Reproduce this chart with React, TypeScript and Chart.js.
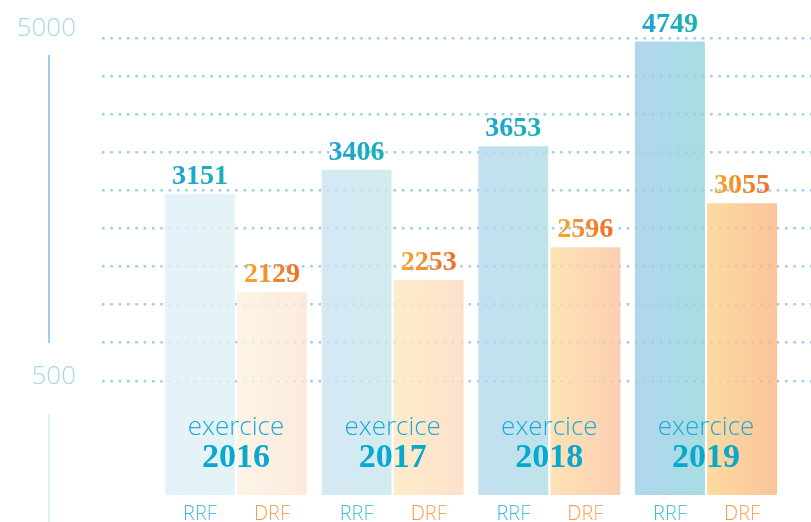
import React, { useEffect, useRef } from "react";
import { Chart, registerables } from "chart.js";

Chart.register(...registerables);

const categories = ["2016", "2017", "2018", "2019"];
const seriesLabels = ["RRF", "DRF"];
const rrfValues = [3151, 3406, 3653, 4749];
const drfValues = [2129, 2253, 2596, 3055];
const shownTickLabels = [500, 5000];

const rrfFills = [
  ["rgba(225,239,249,0.82)", "rgba(222,240,243,0.82)"],
  ["rgba(204,227,243,0.82)", "rgba(200,231,234,0.82)"],
  ["rgba(182,216,239,0.82)", "rgba(177,221,227,0.82)"],
  ["rgba(160,205,235,0.82)", "rgba(148,213,220,0.82)"],
];
const drfFills = [
  ["rgba(252,242,224,0.82)", "rgba(252,229,216,0.82)"],
  ["rgba(254,232,190,0.82)", "rgba(252,218,193,0.82)"],
  ["rgba(254,221,165,0.82)", "rgba(251,196,161,0.82)"],
  ["rgba(252,211,139,0.82)", "rgba(250,182,132,0.82)"],
];

const CAT_PCT = 0.92;
const BAR_PCT = 0.97;

function barFill(fills: string[][], side: number) {
  return (c: any) => {
    const chart = c.chart;
    const xs = chart.scales && chart.scales.x;
    const pair = fills[c.dataIndex] || fills[0];
    if (!xs || !chart.chartArea || !isFinite(xs.getPixelForValue(1))) return pair[0];
    const center = xs.getPixelForValue(c.dataIndex);
    const step = xs.getPixelForValue(1) - xs.getPixelForValue(0);
    const chunk = (step * CAT_PCT) / 2;
    const left = side === 0 ? center - chunk : center;
    const right = side === 0 ? center : center + chunk;
    const g = chart.ctx.createLinearGradient(left, 0, right, 0);
    g.addColorStop(0, pair[0]);
    g.addColorStop(1, pair[1]);
    return g;
  };
}

const valueGradients = [
  ["#1fa3d6", "#17b2b2"],
  ["#f9a62c", "#ee6e2c"],
];
const seriesLabelColors = [
  ["#3fb4e0", "#55c8db"],
  ["#f7983f", "#f7ab60"],
];

const decorPlugin = {
  id: "decor",
  beforeDatasetsDraw(chart: any) {
    const ctx = chart.ctx;
    const s = chart.scales.yg;
    const y5000 = s.getPixelForValue(5000);
    const y500 = s.getPixelForValue(500);
    const x = s.left + 49;
    ctx.save();
    ctx.strokeStyle = "#9dcfec";
    ctx.lineWidth = 2;
    ctx.beginPath();
    ctx.moveTo(x, y5000 + 22);
    ctx.lineTo(x, y500 - 38);
    ctx.stroke();
    ctx.strokeStyle = "#d3e8f6";
    ctx.lineWidth = 1.5;
    ctx.beginPath();
    ctx.moveTo(x, y500 + 33);
    ctx.lineTo(x, chart.height);
    ctx.stroke();
    ctx.font = '300 26px "Open Sans"';
    ctx.fillStyle = "#a8d5ef";
    ctx.textAlign = "right";
    ctx.textBaseline = "middle";
    shownTickLabels.forEach((v) => {
      const yy = s.getPixelForValue(v);
      ctx.fillText(String(v), s.right - 26, yy - 4);
    });
    ctx.restore();
  },
  afterDatasetsDraw(chart: any) {
    const ctx = chart.ctx;
    const area = chart.chartArea;
    ctx.save();
    ctx.textAlign = "center";
    ctx.textBaseline = "alphabetic";
    chart.data.datasets.forEach((ds: any, di: number) => {
      const meta = chart.getDatasetMeta(di);
      meta.data.forEach((el: any, i: number) => {
        const v = ds.data[i].y;
        ctx.font = 'bold 28px "Liberation Serif"';
        const txt = String(v);
        const w = ctx.measureText(txt).width;
        const g = ctx.createLinearGradient(el.x - w / 2, 0, el.x + w / 2, 0);
        g.addColorStop(0, valueGradients[di][0]);
        g.addColorStop(1, valueGradients[di][1]);
        ctx.fillStyle = g;
        ctx.fillText(txt, el.x, el.y - 10);
        ctx.font = '300 20px "Open Sans"';
        const lw = ctx.measureText(seriesLabels[di]).width;
        const lg = ctx.createLinearGradient(el.x - lw / 2, 0, el.x + lw / 2, 0);
        lg.addColorStop(0, seriesLabelColors[di][0]);
        lg.addColorStop(1, seriesLabelColors[di][1]);
        ctx.fillStyle = lg;
        ctx.fillText(seriesLabels[di], el.x, area.bottom + 25);
      });
    });
    const xs = chart.scales.x;
    categories.forEach((cat, i) => {
      const cx = xs.getPixelForValue(i);
      ctx.font = '300 26px "Open Sans"';
      ctx.fillStyle = "#1faad8";
      ctx.fillText("exercice", cx, area.bottom - 60);
      ctx.font = 'bold 34px "Liberation Serif"';
      ctx.fillStyle = "#07a9cf";
      ctx.fillText(cat, cx, area.bottom - 28);
    });
    ctx.restore();
  },
};

export default function App() {
  const ref = useRef<HTMLCanvasElement | null>(null);
  useEffect(() => {
    if (!ref.current) return;
    const chart = new Chart(ref.current, {
      type: "bar",
      data: {
        datasets: [
          {
            label: seriesLabels[0],
            data: rrfValues.map((v, i) => ({ x: i, y: v })),
            backgroundColor: barFill(rrfFills, 0),
            yAxisID: "y",
            xAxisID: "x",
          },
          {
            label: seriesLabels[1],
            data: drfValues.map((v, i) => ({ x: i, y: v })),
            backgroundColor: barFill(drfFills, 1),
            yAxisID: "y",
            xAxisID: "x",
          },
        ],
      } as any,
      options: {
        animation: false,
        responsive: false,
        devicePixelRatio: 1,
        events: [],
        datasets: {
          bar: { barPercentage: BAR_PCT, categoryPercentage: CAT_PCT },
        },
        layout: { padding: { left: 0, right: 0, top: 0, bottom: 27 } },
        plugins: {
          legend: { display: false },
          tooltip: { enabled: false },
        },
        scales: {
          x: {
            type: "linear",
            display: false,
            offset: false,
            grid: { offset: false },
            min: -0.855,
            max: 3.67,
            afterBuildTicks: (s: any) => {
              s.ticks = categories.map((_, i) => ({ value: i }));
            },
          },
          y: {
            type: "linear",
            display: false,
            min: 0,
            max: 5185,
          },
          yg: {
            type: "linear",
            position: "left",
            min: -974,
            max: 5427,
            afterFit: (s: any) => {
              s.width = 102;
              s.paddingTop = 0;
              s.paddingBottom = 0;
            },
            afterBuildTicks: (s: any) => {
              s.ticks = s.ticks.filter((t: any) => t.value >= 500 && t.value <= 5000);
            },
            border: { display: false, dash: [2.5, 5.83] },
            grid: {
              drawTicks: false,
              color: "#9ccdee",
              lineWidth: 2.5,
            },
            ticks: {
              stepSize: 500,
              display: false,
            },
          },
        },
      } as any,
      plugins: [decorPlugin],
    });
    return () => chart.destroy();
  }, []);
  return (
    <div style={{ position: "absolute", left: 0, top: 0, width: 811, height: 522, background: "#fff" }}>
      <canvas ref={ref} width={811} height={522} style={{ display: "block", width: 811, height: 522 }} />
    </div>
  );
}
